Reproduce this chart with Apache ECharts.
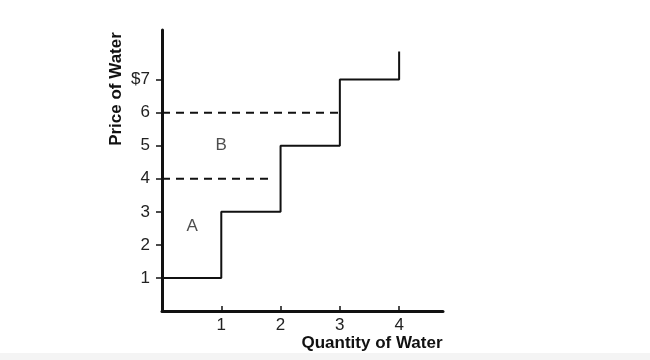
<!DOCTYPE html>
<html><head><meta charset="utf-8">
<script src="https://cdn.jsdelivr.net/npm/echarts@6/dist/echarts.min.js"></script>
<style>html,body{margin:0;padding:0;background:#fff}#c{width:650px;height:360px}</style>
</head><body><div id="c"></div>
<script>
// Supply step (quantity, price)
const stepX = [0, 1, 1, 2, 2, 3, 3, 4, 4];
const stepY = [1, 1, 3, 3, 5, 5, 7, 7, 7.85];
// Dashed reference lines
const dash6X = [0, 3];
const dash6Y = [6, 6];
const dash4X = [0, 1.86];
const dash4Y = [4, 4];
// Area labels
const areaNames = ['A', 'B'];
const areaX = [0.51, 1.0];
const areaY = [2.56, 5.0];
// Ticks
const xTicks = [1, 2, 3, 4];
const yTicks = [1, 2, 3, 4, 5, 6, 7];
const yTickLabels = ['1', '2', '3', '4', '5', '6', '$7'];
const xTitle = 'Quantity of Water';
const yTitle = 'Price of Water';

const zip = (a, b) => a.map((v, i) => [v, b[i]]);
const chart = echarts.init(document.getElementById('c'), null, {renderer: 'canvas'});
const font = 'Liberation Sans';
chart.setOption({
  animation: false,
  backgroundColor: '#fff',
  grid: {left: 162, right: 207, top: 30, bottom: 49, containLabel: false},
  xAxis: {
    type: 'value', min: 0, max: 4.74,
    splitLine: {show: false},
    axisLine: {show: true, onZero: false, lineStyle: {color: '#111', width: 3}},
    axisTick: {show: true, inside: true, length: 5, lineStyle: {color: '#111', width: 1.5}, customValues: xTicks},
    axisLabel: {customValues: xTicks, color: '#222', fontFamily: font, fontSize: 17, margin: 6}
  },
  yAxis: {
    type: 'value', min: 0, max: 8.5,
    splitLine: {show: false},
    axisLine: {show: true, onZero: false, lineStyle: {color: '#111', width: 3}},
    axisTick: {show: true, inside: false, length: 6, lineStyle: {color: '#111', width: 1.5}, customValues: yTicks},
    axisLabel: {customValues: yTicks, color: '#222', fontFamily: font, fontSize: 17, margin: 12,
      formatter: v => yTickLabels[yTicks.indexOf(v)] ?? ''}
  },
  series: [
    {type: 'line', data: zip(stepX, stepY), symbol: 'none', lineStyle: {color: '#111', width: 2}, silent: true},
    {type: 'line', data: zip(dash6X, dash6Y), symbol: 'none', lineStyle: {color: '#111', width: 2, type: [8, 6]}, silent: true},
    {type: 'line', data: zip(dash4X, dash4Y), symbol: 'none', lineStyle: {color: '#111', width: 2, type: [8, 6]}, silent: true},
    {type: 'scatter', symbolSize: 0, silent: true,
      data: areaNames.map((n, i) => ({name: n, value: [areaX[i], areaY[i]]})),
      label: {show: true, position: 'inside', formatter: p => p.name, color: '#222', fontFamily: font, fontSize: 17}}
  ],
  graphic: [
    {type: 'rect', left: 0, top: 353, shape: {width: 650, height: 7}, style: {fill: '#f4f4f4'}, silent: true},
    {type: 'text', x: 372, y: 343, style: {text: xTitle, font: 'bold 17px "Liberation Sans", Arial, sans-serif', fill: '#111', textAlign: 'center', textVerticalAlign: 'middle'}},
    {type: 'text', x: 116, y: 89, rotation: Math.PI / 2, style: {text: yTitle, font: 'bold 17px "Liberation Sans", Arial, sans-serif', fill: '#111', textAlign: 'center', textVerticalAlign: 'middle'}}
  ]
});
</script></body></html>
